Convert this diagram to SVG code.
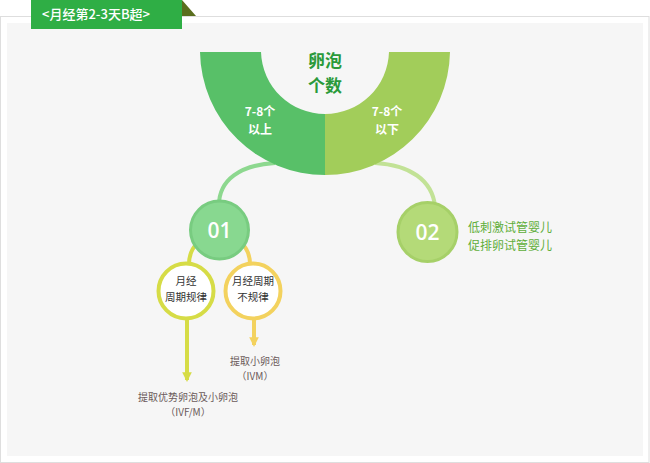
<svg xmlns="http://www.w3.org/2000/svg" width="650" height="463" viewBox="0 0 650 463">
<defs>
<style>
.cjk{font-family:"Noto Sans CJK SC","Noto Sans",sans-serif}
.num{font-family:"Open Sans","Noto Sans",sans-serif;fill:#fff;font-size:21px;font-weight:600;text-anchor:middle}
.wt{fill:#fff;font-size:12px;font-weight:bold;text-anchor:middle}
.ct{fill:#333;font-size:10.5px;text-anchor:middle}
.res{fill:#6b5a5a;font-size:10px;text-anchor:middle}
.gt{fill:#5fae3a;font-size:12px}
</style>
<marker id="ah1" viewBox="0 0 10 10" refX="8" refY="5" markerWidth="2.4" markerHeight="2.4" orient="auto"><path d="M0,0 L10,5 L0,10 z" fill="#d6dc46"/></marker>
<marker id="ah2" viewBox="0 0 10 10" refX="8" refY="5" markerWidth="2.4" markerHeight="2.4" orient="auto"><path d="M0,0 L10,5 L0,10 z" fill="#f3d25e"/></marker>
</defs>
<rect x="0.5" y="16.5" width="648.5" height="446" fill="#fff" stroke="#dedede"/>
<rect x="7" y="23" width="636" height="433" fill="#f6f6f6"/>
<g id="tab">
<polygon points="182,0 196,16 182,16" fill="#5a6e1e"/>
<rect x="31" y="0" width="151" height="29" fill="#2fae45"/>
<text x="96" y="19" class="cjk" fill="#fff" font-size="13" font-weight="500" text-anchor="middle">&lt;月经第2-3天B超&gt;</text>
</g>
<g id="connectors" fill="none" stroke-width="4">
<path d="M219,205 C219,180 240,165 275,163" stroke="#8dd88f"/>
<path d="M435,206 C432,180 410,165 375,163" stroke="#c2e296"/>
<path d="M189,264 A31,31 0 0 1 219,233" stroke="#d6dc46"/>
<path d="M219,233 A31,31 0 0 1 250,264" stroke="#f3d25e"/>
<line x1="187" y1="320" x2="187" y2="380" stroke="#d6dc46" marker-end="url(#ah1)"/>
<line x1="254" y1="320" x2="254" y2="345" stroke="#f3d25e" marker-end="url(#ah2)"/>
</g>
<g id="hub">
<path d="M200,52 A125,125 0 0 0 325,175 L325,114 A64,64 0 0 1 261,52 Z" fill="#58c068"/>
<path d="M450,52 A125,125 0 0 1 325,175 L325,114 A64,64 0 0 0 389,52 Z" fill="#a2cd5a"/>
<text x="325" y="67" class="cjk" fill="#2a9a3a" font-size="17" font-weight="bold" text-anchor="middle">卵泡</text>
<text x="325" y="92" class="cjk" fill="#2a9a3a" font-size="17" font-weight="bold" text-anchor="middle">个数</text>
<text x="260" y="116" class="cjk wt">7-8个</text>
<text x="260" y="134" class="cjk wt">以上</text>
<text x="387" y="116" class="cjk wt">7-8个</text>
<text x="387" y="134" class="cjk wt">以下</text>
</g>
<g id="n01">
<circle cx="219.5" cy="230" r="29" fill="#88d890" stroke="#78cc80" stroke-width="3"/>
<text x="219.5" y="238" class="num">01</text>
</g>
<g id="n02">
<circle cx="427.5" cy="232" r="29.5" fill="#b4da78" stroke="#a6d068" stroke-width="3"/>
<text x="427.5" y="240" class="num">02</text>
<text x="468" y="232" class="cjk gt">低刺激试管婴儿</text>
<text x="468" y="250" class="cjk gt">促排卵试管婴儿</text>
</g>
<g id="regular">
<circle cx="186" cy="291" r="27.5" fill="#fff" stroke="#d6dc46" stroke-width="4"/>
<text x="186" y="285" class="cjk ct">月经</text>
<text x="186" y="301" class="cjk ct">周期规律</text>
</g>
<g id="irregular">
<circle cx="253" cy="291" r="27.5" fill="#fff" stroke="#f3d25e" stroke-width="4"/>
<text x="253" y="285" class="cjk ct">月经周期</text>
<text x="253" y="301" class="cjk ct">不规律</text>
</g>
<g id="ivm">
<text x="255" y="365" class="cjk res">提取小卵泡</text>
<text x="255" y="380" class="cjk res">（IVM）</text>
</g>
<g id="ivf">
<text x="188" y="401" class="cjk res">提取优势卵泡及小卵泡</text>
<text x="188" y="416" class="cjk res">（IVF/M）</text>
</g>
</svg>
